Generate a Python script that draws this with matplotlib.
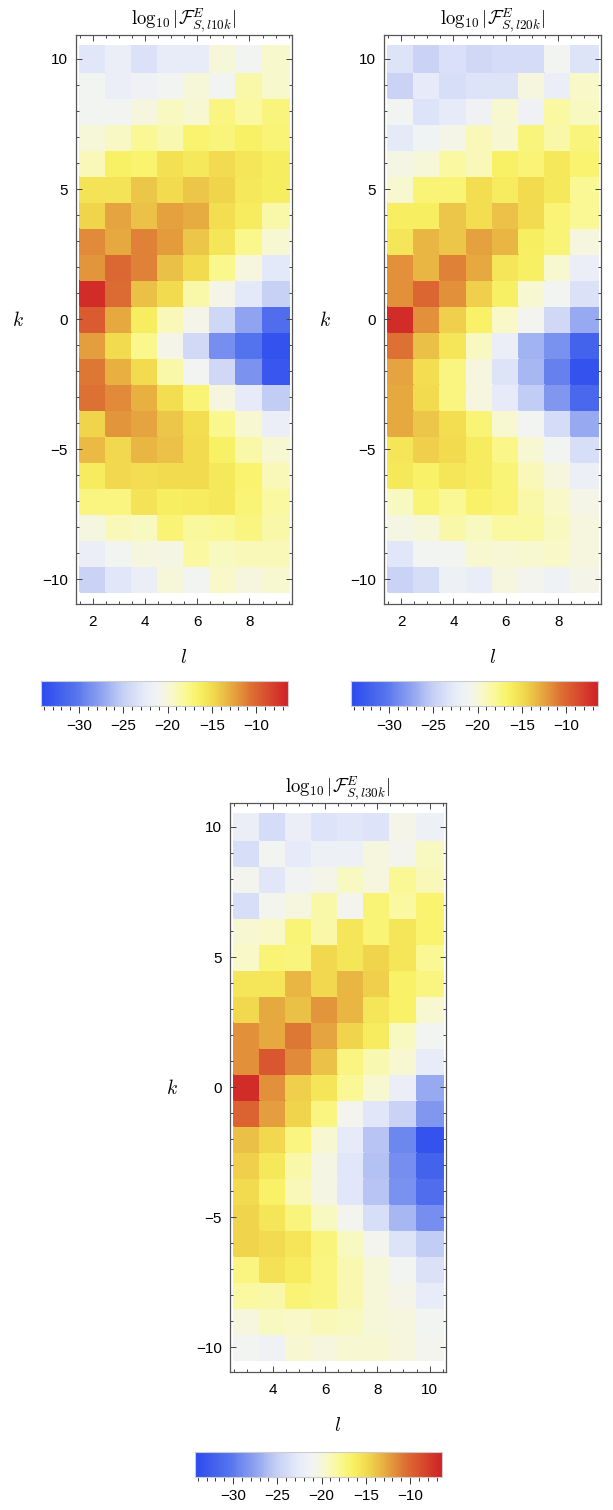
import numpy as np
import matplotlib
matplotlib.use("Agg")
import matplotlib.pyplot as plt
from matplotlib.colors import LinearSegmentedColormap
from matplotlib.ticker import MultipleLocator

plt.rcParams["font.family"] = ["Liberation Sans", "DejaVu Sans"]
plt.rcParams["mathtext.fontset"] = "cm"

# valores log10 |F|, filas de k=10 (arriba) a k=-10 (abajo)
k_vals = np.arange(10, -11, -1)
l_top = np.arange(2, 10)
l_bot = np.arange(3, 11)

f_l10k = [
    [-23, -22, -23.5, -22.5, -22.5, -20, -21, -19.5],
    [-21, -22, -21.5, -21, -20, -21, -18.5, -19.5],
    [-21, -21, -20.2, -19.2, -19.8, -17.3, -18.3, -17.2],
    [-20, -19.3, -18, -18.8, -16.8, -17.2, -16.5, -17],
    [-19, -16.5, -16.8, -15.3, -15.8, -15, -15.6, -16.2],
    [-15.5, -15.5, -14, -15, -14, -14.6, -15.8, -16.2],
    [-14.6, -12.6, -13.8, -12.5, -12.9, -15.2, -16, -18.5],
    [-11.6, -12.8, -11.3, -12.2, -14, -15.6, -17.8, -19.8],
    [-12, -10.2, -11.3, -13.6, -15, -17.8, -20.2, -22.8],
    [-7, -10.3, -13.6, -15, -18.5, -20.5, -22.8, -25],
    [-9.5, -12.8, -16.2, -19, -20.6, -24.4, -27.5, -31],
    [-12.3, -15, -17.8, -20.6, -24.2, -28.8, -30.5, -33.5],
    [-10.8, -13, -15, -18.5, -21, -24.3, -28.5, -33],
    [-10.6, -11.6, -13, -15.2, -17, -20.2, -22.6, -25.2],
    [-14.6, -12, -12.6, -14, -15.2, -17.8, -19.8, -22],
    [-13.4, -14.8, -13.2, -13.8, -15, -16.5, -18.5, -19.8],
    [-16, -14.8, -15.2, -15, -15, -15.8, -16.8, -19],
    [-17.3, -17.3, -15.5, -16.3, -16, -15.8, -17, -18.3],
    [-20.3, -19, -19.2, -17, -18.2, -18, -17.3, -18.5],
    [-22, -21, -20.2, -20.4, -18.3, -19.2, -19, -19],
    [-24.8, -23, -22, -20, -21, -19.4, -20.2, -19.6],
]

f_l20k = [
    [-23.2, -24.8, -23.6, -24.3, -24, -24, -21, -23.2],
    [-24.8, -22.6, -23.8, -23.4, -23.2, -20.2, -22, -19.4],
    [-21, -23.4, -22.6, -21.5, -19.6, -21.5, -18.3, -19.2],
    [-22.7, -21.3, -20.5, -19, -19.8, -17.2, -18.5, -17.2],
    [-20.4, -20, -18.3, -19, -16.5, -17, -15.8, -16.8],
    [-19.6, -17, -17, -15.2, -16, -15, -15.8, -18],
    [-16.3, -16.3, -14, -15.2, -13.8, -15, -17, -18],
    [-15.6, -13.2, -14, -12.5, -13.2, -16.3, -17, -20.2],
    [-11.8, -13.2, -11.3, -12.8, -15.6, -16.4, -19.6, -22],
    [-11.8, -10, -11.8, -14.4, -16.4, -19.8, -21, -23.5],
    [-7, -11.8, -14.4, -16.6, -19.4, -20.8, -24.3, -27.2],
    [-10.6, -13.6, -15.6, -19.2, -22, -26.6, -28.6, -32],
    [-12.6, -15.2, -17.3, -20.2, -23.2, -26.4, -29.6, -33.5],
    [-12.8, -15, -17.3, -20.2, -22.6, -25.2, -28.2, -31.5],
    [-12.8, -14, -15.2, -17, -19.6, -21, -24, -27.2],
    [-15.6, -14.4, -15, -16, -17.6, -19.8, -21, -23.8],
    [-15.8, -16.6, -15.6, -16, -17, -19, -20.2, -21.8],
    [-19.2, -17, -18, -16.6, -17, -18.5, -19.4, -20.5],
    [-20.4, -20, -18.5, -19.2, -18.3, -18.3, -19.2, -20.2],
    [-23, -21, -21, -19.6, -19.9, -19.6, -19.4, -20.2],
    [-24.8, -23.9, -21.7, -22.4, -20.2, -20.8, -21.4, -20.6],
]

f_l30k = [
    [-22, -24, -22, -23.4, -23, -23.3, -20.6, -21.7],
    [-23.8, -21, -22.6, -21.7, -21.7, -20.2, -20.8, -19.2],
    [-20.8, -23, -21.2, -20.6, -19.2, -20.2, -18, -19],
    [-23.8, -20.8, -20.2, -18.5, -20.8, -17, -18.3, -16.8],
    [-19.8, -19.4, -17, -18.5, -15.6, -17, -15.6, -16.8],
    [-19.4, -17, -17.2, -14.8, -15.6, -14.6, -15.6, -18],
    [-15.6, -15.6, -13.2, -14.8, -13.2, -14.4, -16.6, -17.4],
    [-14.8, -12.8, -13.6, -12, -13.2, -15.6, -16.6, -19.6],
    [-11.8, -12.8, -10.8, -12.6, -14.6, -16, -19.2, -21],
    [-11.8, -9.3, -11.6, -13.8, -17.3, -18.8, -19.8, -22.5],
    [-7, -11.8, -14.4, -15.6, -18, -19.6, -22, -27.2],
    [-9.8, -12.3, -14.6, -17.3, -20.8, -23, -24.8, -28.2],
    [-13.6, -14.8, -17.3, -19.8, -22.6, -25.6, -29.2, -33.5],
    [-14.4, -15.8, -18.5, -20.4, -23, -25.8, -28.8, -32],
    [-15, -16.6, -19, -20.4, -23, -25.6, -28.6, -31],
    [-14.6, -15.6, -17.2, -19.2, -20.8, -23.8, -26.4, -28.8],
    [-14.6, -15, -15.6, -17.2, -19.2, -20.8, -23.2, -25.2],
    [-17.3, -15.4, -16, -17.3, -18.8, -20, -21, -23.5],
    [-18.3, -18.5, -17, -17.3, -18.8, -20, -20.6, -22.5],
    [-20.2, -19.2, -19.4, -19, -19.2, -20, -20.2, -21],
    [-21, -21.5, -19.8, -20.2, -19.8, -19.8, -20.2, -20.8],
]

titulos = [r"$\log_{10}|\mathcal{F}^{E}_{S,l10k}|$",
           r"$\log_{10}|\mathcal{F}^{E}_{S,l20k}|$",
           r"$\log_{10}|\mathcal{F}^{E}_{S,l30k}|$"]

vmin, vmax = -34.3, -6.4

# mapa de color azul-blanco-amarillo-rojo
nodos = [
    (-34.3, "#2c4aee"), (-30.5, "#5473ed"), (-27.5, "#8fa3f0"),
    (-25.0, "#c7d1f5"), (-22.5, "#e8ecf9"), (-21.0, "#f2f4f2"),
    (-19.5, "#f8f8cc"), (-18.0, "#faf894"), (-16.5, "#f9f266"),
    (-15.0, "#f2dc4f"), (-13.5, "#eabd45"), (-12.0, "#e3963b"),
    (-10.5, "#dc7033"), (-9.0, "#d9522e"), (-6.4, "#d02228"),
]
cmap = LinearSegmentedColormap.from_list(
    "termo", [((v - vmin) / (vmax - vmin), c) for v, c in nodos])

W, H = 613, 1510
fig = plt.figure(figsize=(W / 100, H / 100), dpi=100)


def caja(x0, x1, y0, y1):
    return [x0 / W, (H - y1) / H, (x1 - x0) / W, (y1 - y0) / H]


paneles = [
    (f_l10k, l_top, caja(76, 292, 35, 604), caja(41, 288, 681, 706)),
    (f_l20k, l_top, caja(384, 601, 35, 604), caja(351, 598, 681, 706)),
    (f_l30k, l_bot, caja(230, 446, 803, 1372), caja(195, 442, 1452, 1477)),
]

for (datos, ls, pos_ax, pos_cb), titulo in zip(paneles, titulos):
    ax = fig.add_axes(pos_ax)
    Z = np.array(datos)[::-1]
    ks = k_vals[::-1]
    l_bordes = np.append(ls - 0.5, ls[-1] + 0.5)
    k_bordes = np.append(ks - 0.5, ks[-1] + 0.5)
    malla = ax.pcolormesh(l_bordes, k_bordes, Z, cmap=cmap, vmin=vmin, vmax=vmax,
                          shading="flat", edgecolors="face", linewidth=0.3)
    ax.set_xlim(ls[0] - 0.65, ls[-1] + 0.63)
    ax.set_ylim(-10.95, 10.92)
    ax.xaxis.set_major_locator(MultipleLocator(2))
    ax.xaxis.set_minor_locator(MultipleLocator(0.5))
    ax.yaxis.set_major_locator(MultipleLocator(5))
    ax.yaxis.set_minor_locator(MultipleLocator(1))
    ax.tick_params(which="both", direction="in", top=True, right=True,
                   color="#444444", width=0.7, labelsize=11)
    ax.tick_params(which="major", length=4)
    ax.tick_params(which="minor", length=2)
    ax.tick_params(axis="y", which="major", pad=6)
    ax.tick_params(axis="x", which="major", pad=8)
    for s in ax.spines.values():
        s.set_color("#555555")
        s.set_linewidth(0.9)
    ax.set_title(titulo, fontsize=13.5, pad=4)
    ax.set_ylabel("$k$", rotation=0, fontsize=14, va="center")
    ax.yaxis.set_label_coords(-0.27, 0.499)
    ax.set_xlabel("$l$", fontsize=14, va="center")
    ax.xaxis.set_label_coords(0.5, -0.095)

    cax = fig.add_axes(pos_cb)
    cb = fig.colorbar(malla, cax=cax, orientation="horizontal")
    cb.set_ticks([-30, -25, -20, -15, -10])
    cax.xaxis.set_minor_locator(MultipleLocator(1))
    cax.tick_params(which="both", direction="out", color="#333333", width=0.7,
                    labelsize=11)
    cax.tick_params(which="major", length=5, pad=4)
    cax.tick_params(which="minor", length=3)
    cb.outline.set_edgecolor("#cccccc")
    cb.outline.set_linewidth(0.8)

fig.savefig("out.png", dpi=100)
plt.close()
